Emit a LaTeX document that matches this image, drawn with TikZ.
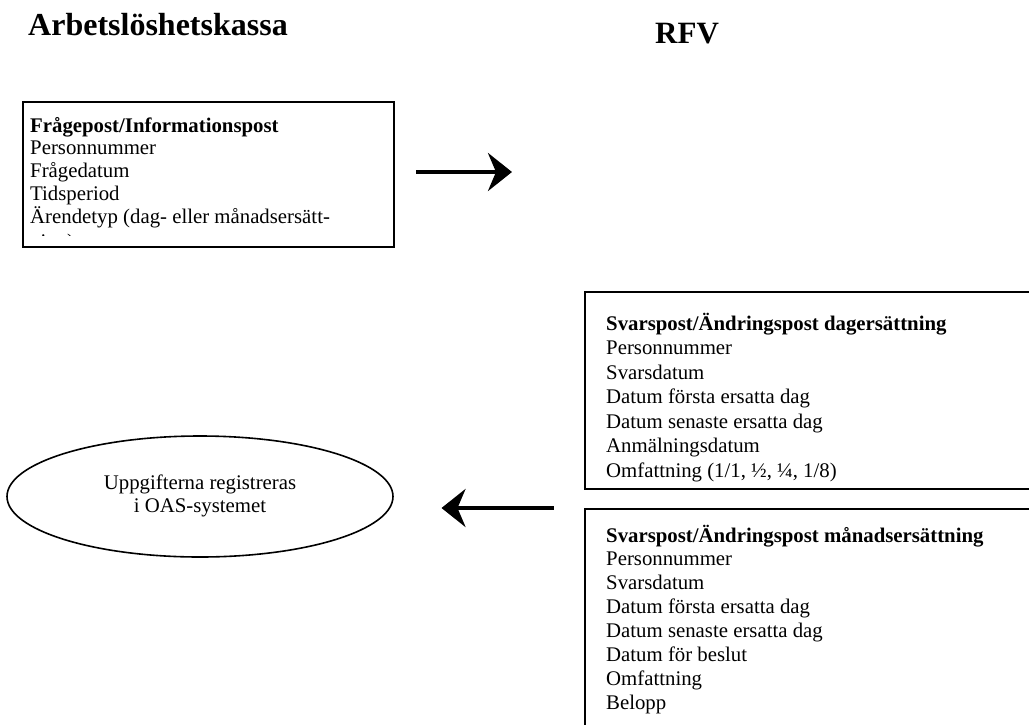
\documentclass[tikz,border=0pt]{standalone}
\usepackage{fontspec}
\setmainfont{Liberation Serif}
\usetikzlibrary{arrows.meta,shapes.geometric}
\tikzset{
  box/.style={draw=black, line width=2pt, rectangle, inner sep=0pt},
  line/.style={anchor=base west, inner sep=0pt, font=\fontsize{20.8}{24}\selectfont},
  head/.style={anchor=base west, inner sep=0pt, font=\fontsize{20.8}{24}\selectfont\bfseries},
  title/.style={anchor=base west, inner sep=0pt, font=\fontsize{32}{36}\selectfont\bfseries},
  flow/.style={line width=4pt, -{Stealth[length=24pt, width=38pt, inset=8pt]}},
  oval/.style={draw=black, line width=1.6pt, ellipse, inner sep=0pt, minimum width=386pt, minimum height=121pt},
  ovaltext/.style={anchor=base, inner sep=0pt, font=\fontsize{20.8}{24}\selectfont}
}
\begin{document}
\begin{tikzpicture}[x=1pt, y=-1pt]
\useasboundingbox (0,0) rectangle (1029,724);
\clip (0,0) rectangle (1029,724);

% titles
\node[title] (tA) at (28,35) {Arbetslöshetskassa};
\node[title, font=\fontsize{31}{35}\selectfont\bfseries] (tR) at (655,43) {RFV};

% box 1
\node[box, anchor=north west, minimum width=371pt, minimum height=145pt] (b1) at (22,101) {};
\node[head] (b1h) at (30,132) {Frågepost/Informationspost};
\foreach \t [count=\i] in {Personnummer, Frågedatum, Tidsperiod, {Ärendetyp (dag- eller månadsersätt-}} {
  \node[line] (b1l\i) at (30,{132+22.8*\i}) {\t};
}
\begin{scope}
  \clip (23,102) rectangle (392,235);
  \node[line] (b1l5) at (30,{134+22.8*5}) {ning)};
\end{scope}

% arrow to RFV
\coordinate (a1s) at (416,172);
\coordinate (a1e) at (512,172);
\draw[flow] (a1s) -- (a1e);

% box 2
\node[box, anchor=north west, minimum width=470pt, minimum height=197pt] (b2) at (584,291) {};
\node[head] (b2h) at (606,330) {Svarspost/Ändringspost dagersättning};
\foreach \t [count=\i] in {Personnummer, Svarsdatum, Datum första ersatta dag, Datum senaste ersatta dag, Anmälningsdatum, {Omfattning (1/1, ½, ¼, 1/8)}} {
  \node[line] (b2l\i) at (606,{330+24.5*\i}) {\t};
}

% box 3
\node[box, anchor=north west, minimum width=470pt, minimum height=240pt] (b3) at (584,508) {};
\node[head] (b3h) at (606,542) {Svarspost/Ändringspost månadsersättning};
\foreach \t [count=\i] in {Personnummer, Svarsdatum, Datum första ersatta dag, Datum senaste ersatta dag, Datum för beslut, Omfattning, Belopp} {
  \node[line] (b3l\i) at (606,{542+23.9*\i}) {\t};
}

% ellipse
\node[oval] (ov) at (200,496.5) {};
\node[ovaltext] (ov1) at (200,489) {Uppgifterna registreras};
\node[ovaltext] (ov2) at (200,512) {i OAS-systemet};

% arrow back
\coordinate (a2s) at (553.5,508);
\coordinate (a2e) at (441.5,508);
\draw[flow] (a2s) -- (a2e);
\end{tikzpicture}
\end{document}
